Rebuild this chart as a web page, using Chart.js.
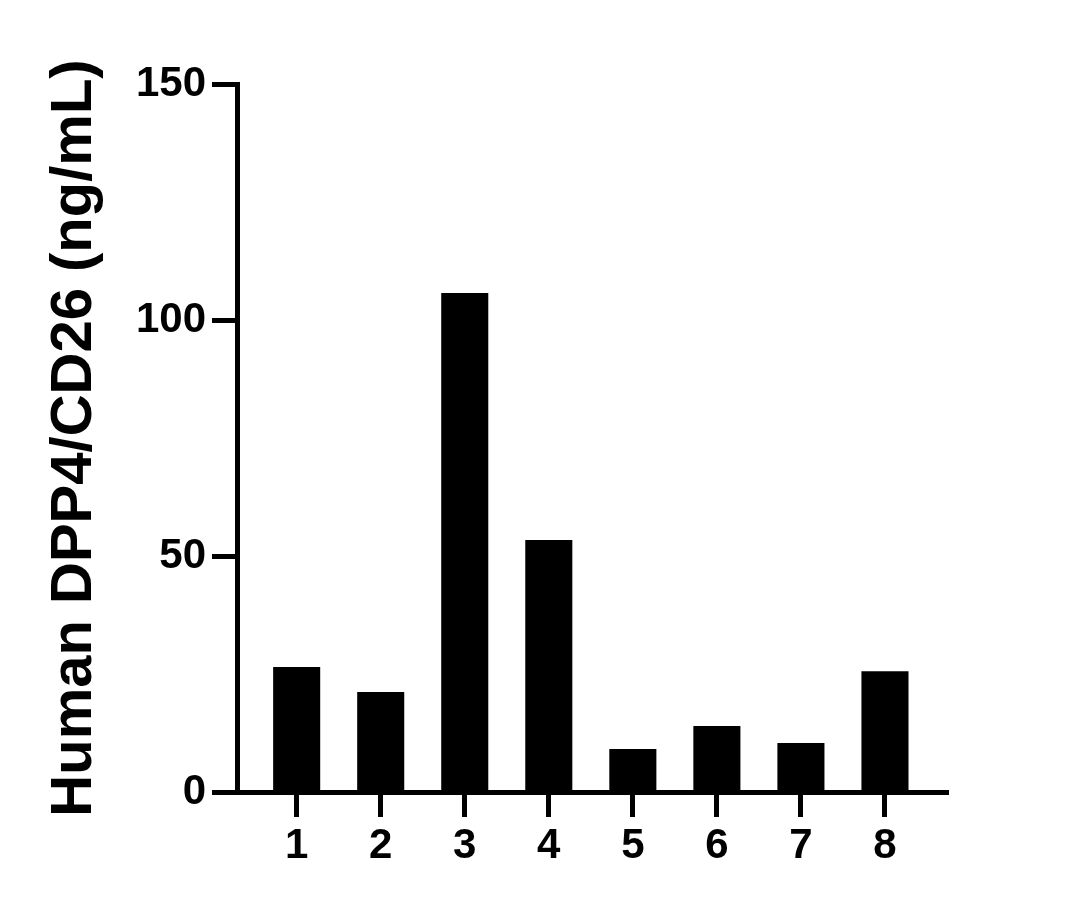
<!DOCTYPE html>
<html>
<head>
<meta charset="utf-8">
<script src="https://cdn.jsdelivr.net/npm/chart.js@4/dist/chart.umd.min.js"></script>
<style>
    html, body { margin: 0; padding: 0; background: #fff; }
    #wrap { width: 1079px; height: 909px; position: relative; }
</style>
</head>
<body>
<div id="wrap"><canvas id="dppChart"></canvas></div>
<script>
// Dati del grafico
const categories = [1, 2, 3, 4, 5, 6, 7, 8];
const dppValues = [26.5, 21.2, 105.7, 53.4, 9.1, 14.0, 10.4, 25.6];
const yTicks = [0, 50, 100, 150];
const yTitle = 'Human DPP4/CD26 (ng/mL)';

const FONT = "'Liberation Sans', Arial, sans-serif";

// Punti {x, y} costruiti dagli array
const points = categories.map((c, i) => ({ x: c, y: dppValues[i] }));

const ctx = document.getElementById('dppChart').getContext('2d');

const dppChart = new Chart(ctx, {
    type: 'bar',
    data: {
        datasets: [{
            data: points,
            backgroundColor: '#000',
            borderWidth: 0,
            barPercentage: 0.56,
            categoryPercentage: 1
        }]
    },
    options: {
        responsive: true,
        maintainAspectRatio: false,
        animation: false,
        layout: { padding: { top: 84, right: 131, bottom: 17, left: 0 } },
        plugins: {
            legend: { display: false },
            tooltip: { enabled: false }
        },
        scales: {
            x: {
                type: 'linear',
                offset: false,
                min: 0.29,
                max: 8.75,
                grid: {
                    offset: false,
                    drawOnChartArea: false,
                    drawTicks: true,
                    tickLength: 25,
                    tickWidth: 5,
                    tickColor: '#000'
                },
                border: { display: true, width: 5, color: '#000' },
                afterBuildTicks: (scale) => {
                    scale.ticks = categories.map(v => ({ value: v }));
                },
                afterFit: (scale) => { scale.height = 100; },
                ticks: {
                    color: '#000',
                    padding: 4,
                    maxRotation: 0,
                    autoSkip: false,
                    font: { family: FONT, size: 42, weight: 'bold' },
                    callback: (v) => String(v)
                }
            },
            y: {
                min: 0,
                max: 150,
                grid: {
                    drawOnChartArea: false,
                    drawTicks: true,
                    tickLength: 25,
                    tickWidth: 5,
                    tickColor: '#000'
                },
                border: { display: true, width: 5, color: '#000' },
                afterBuildTicks: (scale) => {
                    scale.ticks = yTicks.map(v => ({ value: v }));
                },
                afterFit: (scale) => { scale.width = 237; },
                ticks: {
                    color: '#000',
                    padding: 6,
                    font: { family: FONT, size: 42, weight: 'bold' }
                },
                title: {
                    display: true,
                    text: yTitle,
                    color: '#000',
                    padding: { top: 40, bottom: 0 },
                    font: { family: FONT, size: 58, weight: 'bold' }
                }
            }
        }
    }
});
</script>
</body>
</html>
